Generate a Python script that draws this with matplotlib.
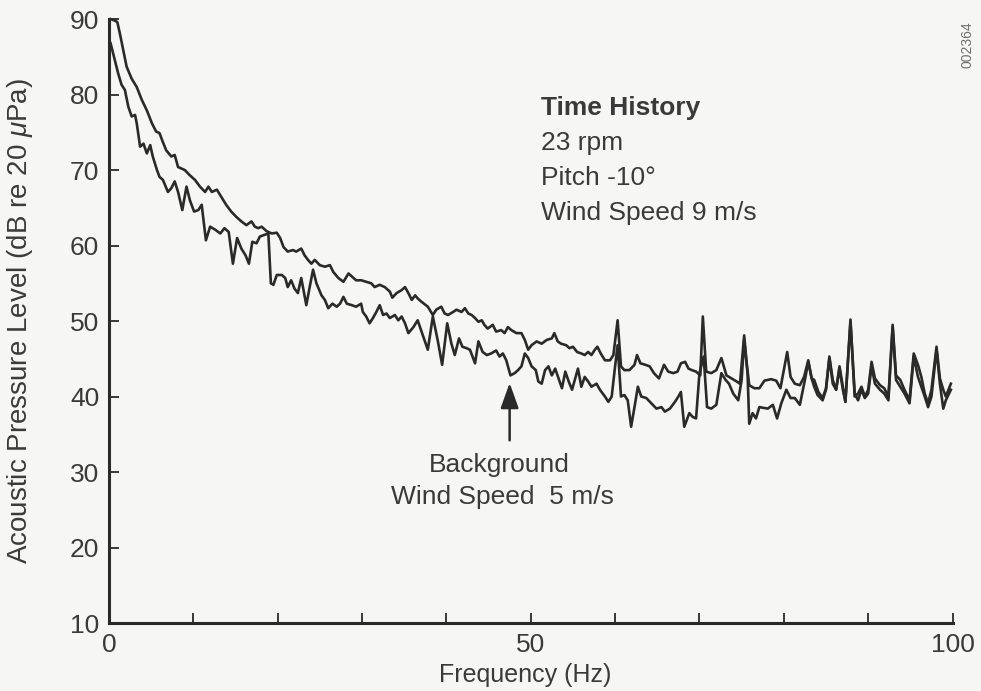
import matplotlib
matplotlib.use("Agg")
import matplotlib.pyplot as plt

# Narrowband spectrum, rotor at 23 rpm, pitch -10 deg, 9 m/s wind
freq_run = [0.2, 0.7, 1.0, 1.3, 1.7, 2.1, 2.7, 3.3, 3.9, 4.5, 5.1, 5.6, 6.0, 6.4, 6.8,
            7.4, 7.8, 8.2, 9.0, 9.6, 10.2, 10.8, 11.4, 11.8, 12.2, 12.8, 13.4, 13.9,
            14.5, 15.1, 15.7, 16.3, 16.9, 17.3, 17.7, 18.1, 18.7, 19.3, 19.9, 20.3,
            20.7, 21.2, 21.8, 22.2, 22.8, 23.2, 23.6, 24.0, 24.4, 25.0, 25.6, 26.2,
            26.6, 27.2, 27.8, 28.4, 28.8, 29.3, 29.9, 30.5, 31.1, 31.5, 32.1, 32.7,
            33.3, 33.6, 34.1, 34.7, 35.1, 35.5, 35.9, 36.3, 36.6, 37.0, 37.8, 38.4,
            38.8, 39.4, 39.8, 40.2, 40.8, 41.2, 41.8, 42.2, 42.6, 43.0, 43.4, 43.8,
            44.2, 44.5, 44.9, 45.5, 45.9, 46.5, 46.9, 47.3, 47.7, 48.3, 48.9, 49.3,
            49.7, 50.1, 50.7, 51.3, 51.9, 52.5, 52.8, 53.2, 53.6, 54.2, 54.6, 55.0,
            55.5, 56.0, 56.4, 56.8, 57.2, 57.6, 57.9, 58.3, 58.8, 59.4, 59.8, 60.3,
            60.7, 61.1, 61.7, 62.3, 62.6, 63.0, 63.6, 64.1, 64.6, 65.2, 65.8, 66.3,
            66.9, 67.4, 67.8, 68.3, 68.7, 69.1, 69.6, 70.1, 70.4, 70.8, 71.4, 72.0,
            72.6, 73.2, 73.8, 74.4, 74.8, 75.3, 75.6, 75.9, 76.5, 77.1, 77.7, 78.5,
            79.1, 79.6, 80.0, 80.4, 80.8, 81.3, 81.9, 82.4, 82.9, 83.3, 83.6, 84.1,
            84.6, 85.0, 85.4, 85.8, 86.2, 86.6, 87.0, 87.3, 87.9, 88.4, 88.8, 89.2,
            89.6, 90.0, 90.4, 90.8, 91.4, 91.9, 92.4, 92.9, 93.3, 93.8, 94.3, 94.9,
            95.4, 95.9, 96.3, 96.7, 97.1, 97.5, 98.1, 98.5, 98.9, 99.2, 99.8]
spl_run = [90.0, 89.8, 89.6, 88.1, 85.9, 83.7, 82.1, 81.0, 79.3, 77.9, 76.2, 75.1, 74.9,
           73.7, 72.6, 71.8, 72.0, 70.4, 70.0, 69.3, 68.7, 67.8, 67.1, 67.8, 67.1, 67.4,
           66.3, 65.4, 64.5, 63.8, 63.2, 62.7, 63.2, 62.5, 62.3, 62.5, 61.9, 61.6, 61.7,
           61.0, 59.8, 59.2, 59.4, 59.2, 59.6, 58.7, 58.1, 57.6, 58.1, 57.4, 57.2, 57.4,
           56.5, 55.7, 55.2, 56.3, 55.9, 55.4, 55.4, 55.2, 55.0, 54.5, 54.8, 54.5, 53.9,
           53.1, 53.7, 54.1, 54.5, 53.7, 52.8, 53.4, 53.0, 52.6, 51.9, 50.8, 51.5, 51.9,
           51.0, 50.8, 51.2, 51.5, 51.2, 51.7, 51.0, 50.8, 50.4, 49.9, 50.1, 49.5, 49.0,
           49.5, 48.6, 48.8, 48.4, 49.2, 48.8, 48.4, 48.4, 47.5, 46.2, 46.8, 47.3, 47.0,
           47.5, 47.7, 48.4, 47.3, 47.0, 46.8, 46.4, 46.6, 45.9, 45.7, 45.5, 45.9, 45.5,
           46.2, 46.6, 45.7, 44.8, 44.8, 45.5, 50.1, 44.0, 43.5, 43.5, 44.2, 45.5, 44.4,
           44.2, 44.0, 43.1, 42.4, 44.2, 43.3, 43.1, 43.3, 44.4, 44.6, 43.7, 43.5, 43.3,
           42.8, 50.6, 43.3, 43.1, 43.5, 45.1, 42.8, 42.4, 42.0, 41.7, 48.1, 44.4, 41.5,
           41.1, 41.1, 42.1, 42.3, 42.1, 41.1, 43.5, 45.9, 42.6, 41.7, 41.5, 42.6, 44.8,
           42.4, 42.2, 40.6, 39.8, 41.1, 45.3, 42.2, 40.9, 44.0, 41.3, 39.3, 50.2, 40.0,
           40.4, 41.3, 40.0, 40.9, 44.6, 42.4, 41.5, 41.1, 40.0, 49.5, 42.8, 42.2, 40.9,
           39.5, 45.7, 44.2, 42.6, 40.4, 39.1, 40.9, 46.6, 42.4, 40.9, 40.0, 41.7]

# Background spectrum, 5 m/s wind
freq_bg = [0.2, 0.7, 1.1, 1.5, 1.9, 2.3, 2.7, 3.1, 3.3, 3.7, 4.1, 4.5, 4.9, 5.2, 5.7,
           6.0, 6.4, 7.0, 7.4, 7.8, 8.2, 8.7, 9.2, 9.6, 10.1, 10.6, 11.0, 11.5, 12.0,
           12.6, 13.2, 13.7, 14.2, 14.7, 15.2, 15.7, 16.2, 16.6, 17.0, 17.5, 17.9, 18.4,
           18.9, 19.2, 19.5, 19.9, 20.5, 20.9, 21.2, 21.6, 22.0, 22.4, 22.8, 23.4, 23.8,
           24.2, 24.6, 25.2, 25.6, 26.0, 26.5, 27.0, 27.4, 27.8, 28.2, 28.8, 29.3, 29.9,
           30.1, 30.5, 30.9, 31.3, 31.7, 32.1, 32.5, 32.9, 33.3, 33.9, 34.3, 34.7, 35.1,
           35.5, 36.1, 36.6, 37.0, 37.4, 37.8, 38.4, 39.0, 39.5, 40.1, 40.6, 41.0, 41.5,
           41.9, 42.4, 42.8, 43.4, 43.8, 44.3, 44.8, 45.3, 45.9, 46.3, 46.7, 47.1, 47.6,
           48.1, 48.5, 48.9, 49.3, 49.7, 50.1, 50.6, 50.9, 51.3, 51.7, 52.1, 52.5, 52.9,
           53.3, 53.7, 54.1, 54.5, 54.9, 55.6, 56.0, 56.4, 56.8, 57.2, 57.8, 58.2, 58.8,
           59.2, 59.6, 60.0, 60.3, 60.7, 61.1, 61.5, 61.9, 62.3, 62.7, 63.1, 63.7, 64.3,
           64.9, 65.5, 65.9, 66.5, 67.1, 67.5, 67.8, 68.2, 68.8, 69.2, 69.6, 70.0, 70.5,
           70.9, 71.4, 72.0, 72.6, 73.1, 73.5, 74.0, 74.6, 75.0, 75.3, 75.7, 75.9, 76.3,
           76.7, 77.1, 78.1, 78.7, 79.2, 79.7, 80.3, 80.8, 81.3, 81.9, 82.5, 82.9, 83.3,
           83.6, 84.0, 84.6, 85.0, 85.4, 85.8, 86.2, 86.6, 87.0, 87.3, 87.9, 88.4, 88.8,
           89.2, 89.6, 90.0, 90.4, 90.8, 91.4, 91.9, 92.4, 92.9, 93.3, 93.8, 94.3, 94.9,
           95.4, 95.9, 96.3, 96.7, 97.1, 97.5, 98.1, 98.5, 98.9, 99.2, 99.8]
spl_bg = [86.8, 84.6, 82.8, 81.3, 80.6, 78.4, 77.1, 77.3, 76.2, 73.1, 73.5, 72.2, 73.3,
          71.8, 70.0, 69.1, 68.7, 67.1, 67.6, 68.5, 67.1, 64.7, 67.8, 66.0, 64.5, 64.7,
          65.4, 60.7, 62.5, 62.1, 61.6, 62.3, 61.8, 57.6, 61.0, 59.6, 58.7, 57.6, 60.5,
          60.3, 61.2, 61.4, 61.6, 55.0, 54.8, 56.1, 56.1, 55.7, 54.5, 55.4, 54.3, 53.7,
          55.7, 52.1, 54.5, 56.8, 55.0, 53.4, 52.8, 51.7, 52.3, 51.9, 52.3, 53.2, 52.3,
          52.1, 51.9, 52.3, 51.2, 50.6, 49.7, 50.4, 51.2, 52.1, 50.8, 51.0, 50.4, 50.8,
          50.1, 50.6, 49.7, 48.4, 49.2, 50.1, 48.8, 47.5, 46.2, 50.6, 47.3, 44.2, 49.7,
          47.0, 45.5, 47.7, 46.6, 46.4, 46.2, 44.4, 47.3, 45.9, 45.5, 45.7, 46.1, 45.3,
          45.7, 44.8, 42.8, 43.1, 43.5, 44.0, 45.7, 45.1, 44.0, 43.5, 42.0, 41.7, 43.5,
          44.0, 42.8, 43.7, 42.4, 41.1, 43.3, 42.0, 40.9, 43.7, 41.3, 42.6, 42.0, 41.3,
          41.7, 40.9, 40.0, 39.3, 40.0, 44.0, 46.8, 40.0, 40.2, 39.5, 36.0, 38.6, 41.3,
          40.0, 39.8, 39.1, 38.4, 38.6, 38.0, 38.4, 39.3, 40.0, 40.6, 36.0, 37.8, 37.3,
          37.1, 43.1, 45.3, 38.6, 38.4, 38.9, 43.1, 42.2, 41.7, 40.4, 39.5, 42.2, 47.5,
          43.1, 36.4, 37.8, 37.1, 38.6, 38.4, 38.9, 37.1, 39.1, 40.9, 39.8, 39.8, 38.9,
          42.2, 44.6, 42.4, 41.3, 40.2, 39.5, 40.9, 45.1, 41.7, 40.9, 43.7, 40.9, 39.3,
          49.9, 40.4, 39.5, 40.9, 39.8, 40.4, 44.0, 41.7, 40.9, 40.4, 39.5, 49.2, 42.2,
          41.3, 40.4, 39.1, 45.3, 42.6, 41.3, 40.0, 38.6, 40.0, 46.2, 41.7, 38.4, 39.5,
          40.9]

x_ticks = [0, 10, 20, 30, 40, 50, 60, 70, 80, 90, 100]
x_tick_labels = ["0", "", "", "", "", "50", "", "", "", "", "100"]
y_ticks = [10, 20, 30, 40, 50, 60, 70, 80, 90]

info_title = "Time History"
info_lines = ["23 rpm", "Pitch -10\u00b0", "Wind Speed 9 m/s"]
bg_label = ["Background", "Wind Speed  5 m/s"]
figure_id = "002364"

PAPER = "#f6f6f4"
INK = "#2a2a2a"
TEXT = "#3a3a3a"

plt.rcParams["font.family"] = ["Liberation Sans", "DejaVu Sans"]
plt.rcParams["mathtext.fontset"] = "custom"
plt.rcParams["mathtext.it"] = "Liberation Sans:italic"

fig = plt.figure(figsize=(9.81, 6.91), dpi=100, facecolor=PAPER)
ax = fig.add_axes([0.111, 0.0984, 0.860, 0.874])
ax.set_facecolor(PAPER)

ax.plot(freq_run, spl_run, color=INK, lw=1.9, solid_joinstyle="round", clip_on=False)
ax.plot(freq_bg, spl_bg, color=INK, lw=1.9, solid_joinstyle="round", clip_on=False)

ax.set_xlim(0, 100)
ax.set_ylim(10, 90)
ax.set_xticks(x_ticks)
ax.set_xticklabels(x_tick_labels)
ax.set_yticks(y_ticks)

for side in ("top", "right"):
    ax.spines[side].set_visible(False)
for side in ("left", "bottom"):
    ax.spines[side].set_linewidth(2.2)
    ax.spines[side].set_color(INK)

ax.tick_params(direction="in", length=7, width=1.3, color=INK,
               labelcolor=TEXT, labelsize=19, pad=7)

ax.set_xlabel("Frequency (Hz)", fontsize=18, color=TEXT)
ax.xaxis.set_label_coords(0.494, -0.066)
ax.set_ylabel(r"Acoustic Pressure Level (dB re 20 $\mathit{\mu}$Pa)", fontsize=20, color=TEXT)
ax.yaxis.set_label_coords(-0.087, 0.5)

# run conditions block
ax.text(51.2, 78.2, info_title, fontsize=19, fontweight="bold", color=TEXT, va="center")
for i, line in enumerate(info_lines):
    ax.text(51.2, 73.6 - 4.65 * i, line, fontsize=19, color=TEXT, va="center")

# arrow to the background curve
ax.annotate("", xy=(47.5, 41.8), xytext=(47.5, 34.2),
            arrowprops=dict(arrowstyle="-|>,head_length=0.7,head_width=0.25",
                            color=INK, lw=1.8, mutation_scale=22, shrinkA=0, shrinkB=0))
ax.text(46.3, 30.9, bg_label[0], fontsize=19, color=TEXT, ha="center", va="center")
ax.text(46.6, 26.7, bg_label[1], fontsize=19, color=TEXT, ha="center", va="center")

fig.text(967 / 981, 1 - 45 / 691, figure_id, rotation=90, fontsize=10,
         color="#707070", ha="center", va="center")

fig.savefig("out.png", dpi=100, facecolor=PAPER)
